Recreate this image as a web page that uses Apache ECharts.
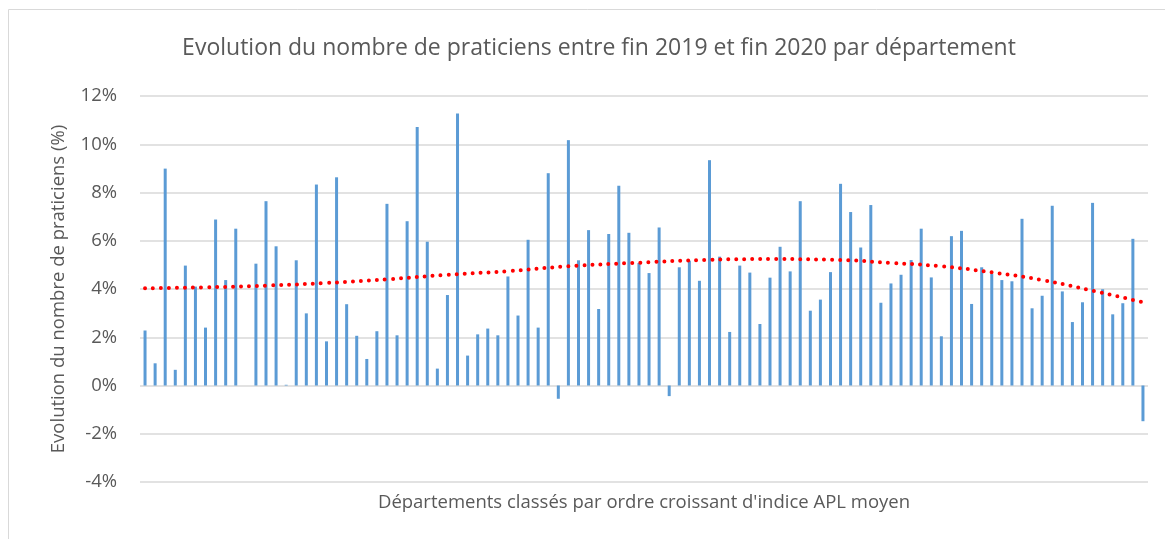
<!DOCTYPE html>
<html>
<head>
<meta charset="utf-8">
<script src="https://cdn.jsdelivr.net/npm/echarts@6/dist/echarts.min.js"></script>
<style>
  html, body { margin: 0; padding: 0; background: #fff; }
  #chart { width: 1165px; height: 539px; }
</style>
</head>
<body>
<div id="chart"></div>
<script>
    // évolution (%) par département, classés par indice APL moyen croissant
    let evolution = [
        2.28, 0.92, 8.99, 0.65, 4.97, 4.10, 2.40, 6.88, 4.37, 6.50,
        0.00, 5.05, 7.64, 5.77, 0.03, 5.19, 2.99, 8.33, 1.83, 8.63,
        3.37, 2.06, 1.10, 2.25, 7.53, 2.08, 6.81, 10.72, 5.96, 0.70,
        3.75, 11.27, 1.24, 2.12, 2.36, 2.08, 4.52, 2.90, 6.04, 2.40,
        8.80, -0.55, 10.17, 5.19, 6.44, 3.17, 6.28, 8.28, 6.33, 5.08,
        4.66, 6.55, -0.44, 4.90, 5.17, 4.34, 9.34, 5.34, 2.22, 4.97,
        4.68, 2.55, 4.47, 5.75, 4.73, 7.64, 3.10, 3.56, 4.70, 8.36,
        7.19, 5.72, 7.48, 3.43, 4.23, 4.59, 5.20, 6.50, 4.48, 2.04,
        6.19, 6.41, 3.38, 4.90, 4.62, 4.37, 4.32, 6.91, 3.20, 3.72,
        7.45, 3.90, 2.63, 3.45, 7.57, 3.99, 2.95, 3.41, 6.08, -1.48
    ]
    // courbe de tendance (rang du département -> %)
    let trendRank = [1, 7, 13, 19, 25, 31, 37, 43, 50, 57, 63, 70, 75, 80, 85, 90, 95, 100]
    let trendValue = [4.03, 4.07, 4.14, 4.25, 4.40, 4.59, 4.74, 4.94, 5.09, 5.21, 5.24, 5.20, 5.08, 4.94, 4.69, 4.37, 3.93, 3.45]
    let yTicks = [-4, -2, 0, 2, 4, 6, 8, 10, 12]

    let categories = evolution.map(function (v, i) { return String(i + 1) })
    let trend = categories.map(function () { return null })
    trendRank.forEach(function (r, i) { trend[r - 1] = trendValue[i] })

    let chart = echarts.init(document.getElementById('chart'))
    let font = '"Open Sans", "Noto Sans", sans-serif'
    chart.setOption({
        animation: false,
        textStyle: { fontFamily: font },
        title: {
            text: 'Evolution du nombre de praticiens entre fin 2019 et fin 2020 par département',
            left: 594,
            textAlign: 'center',
            top: 32,
            textStyle: { fontFamily: font, fontSize: 23, fontWeight: 'normal', color: '#595959' }
        },
        graphic: [{
            type: 'rect',
            shape: { x: 8.5, y: 9.5, width: 1200, height: 600 },
            style: { fill: 'none', stroke: '#d9d9d9', lineWidth: 1 },
            silent: true
        }],
        grid: { left: 140, right: 17, top: 96, bottom: 57 },
        xAxis: {
            type: 'category',
            data: categories,
            name: "Départements classés par ordre croissant d'indice APL moyen",
            nameLocation: 'middle',
            nameGap: 11,
            nameTextStyle: { fontFamily: font, fontSize: 18.5, color: '#595959' },
            axisLine: { show: false },
            axisTick: { show: false },
            axisLabel: { show: false },
            splitLine: { show: false }
        },
        yAxis: {
            type: 'value',
            min: yTicks[0],
            max: yTicks[yTicks.length - 1],
            interval: 2,
            name: 'Evolution du nombre de praticiens (%)',
            nameLocation: 'middle',
            nameGap: 72,
            nameTextStyle: { fontFamily: font, fontSize: 18.5, color: '#595959' },
            axisLine: { show: false },
            axisTick: { show: false },
            axisLabel: { formatter: '{value}%', fontFamily: font, fontSize: 18.5, color: '#595959', margin: 23 },
            splitLine: { lineStyle: { color: '#d9d9d9', width: 1.5 } }
        },
        series: [
            {
                type: 'bar',
                data: evolution,
                barWidth: 3,
                itemStyle: { color: '#5b9bd5' }
            },
            {
                type: 'line',
                data: trend,
                connectNulls: true,
                smooth: true,
                showSymbol: false,
                lineStyle: { color: '#ff0000', width: 4, type: [0, 8], cap: 'round' },
                z: 5
            }
        ]
    })
</script>
</body>
</html>
